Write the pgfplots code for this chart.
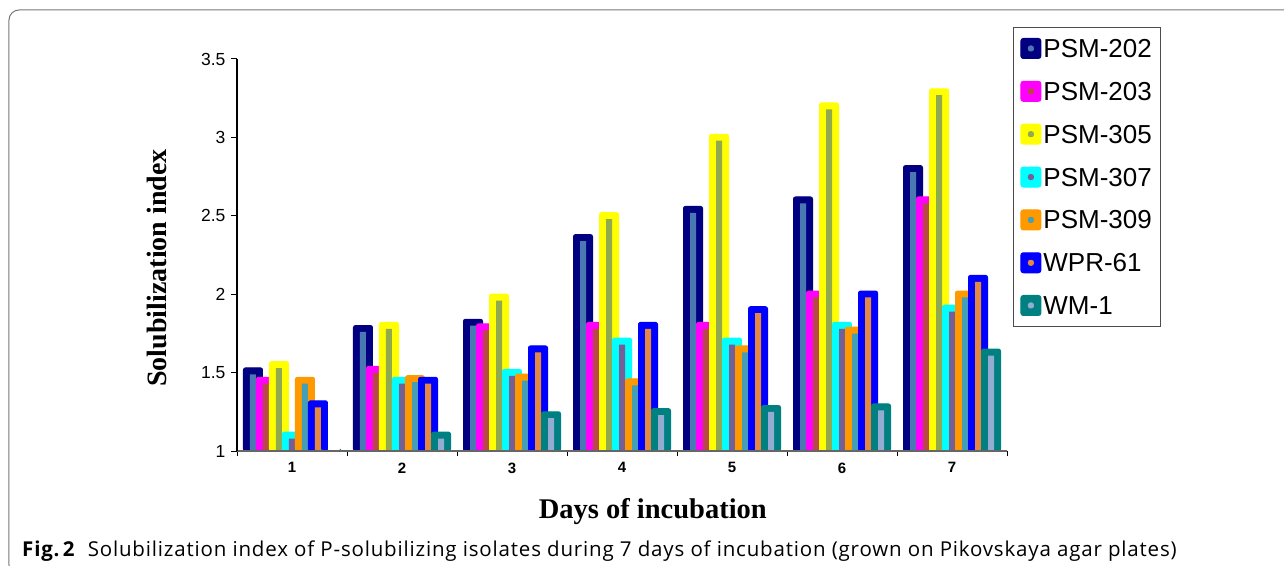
\documentclass[border=0pt]{standalone}
\usepackage{pgfplots}
\pgfplotsset{compat=1.18}
\usepackage{pgfplotstable}
\usepackage{fontspec}
\setmainfont{Liberation Sans}
\newfontfamily\tnr{Liberation Serif}
\newfontfamily\capfont[LetterSpace=4]{Open Sans}

% bar colours (outer) and inner strip colours
\definecolor{cA}{RGB}{0,0,128}     \definecolor{cAi}{RGB}{74,120,178}
\definecolor{cB}{RGB}{255,0,255}   \definecolor{cBi}{RGB}{185,72,72}
\definecolor{cC}{RGB}{255,255,0}   \definecolor{cCi}{RGB}{145,170,78}
\definecolor{cD}{RGB}{0,255,255}   \definecolor{cDi}{RGB}{118,94,150}
\definecolor{cE}{RGB}{255,153,0}   \definecolor{cEi}{RGB}{68,158,182}
\definecolor{cF}{RGB}{0,0,255}     \definecolor{cFi}{RGB}{226,136,66}
\definecolor{cG}{RGB}{0,128,128}   \definecolor{cGi}{RGB}{148,172,210}
\definecolor{framegray}{RGB}{120,120,120}

% solubilization index per day
\pgfplotstableread{
day  a    b    c    d    e    f    g
1    1.53 1.47 1.57 1.12 1.47 1.32 1.00
2    1.80 1.54 1.82 1.47 1.48 1.47 1.12
3    1.84 1.81 2.00 1.52 1.49 1.67 1.25
4    2.38 1.82 2.52 1.72 1.46 1.82 1.27
5    2.56 1.82 3.02 1.72 1.67 1.92 1.29
6    2.62 2.02 3.22 1.82 1.79 2.02 1.30
7    2.82 2.62 3.31 1.93 2.02 2.12 1.65
}\data

\pgfplotsset{
  swatch/.style 2 args={legend image code/.code={
    \fill[#1, rounded corners=2.5pt] (0pt,-10pt) rectangle (20pt,10pt);
    \fill[#2] (7.5pt,-2.5pt) rectangle (12.5pt,2.5pt);}},
  outer/.style 2 args={ybar, bar width=19pt, bar shift=#2, fill=#1, draw=#1,
    line width=1pt, rounded corners=2pt},
  inner/.style 2 args={ybar, bar width=6pt, bar shift=#2, fill=#1, draw=none, forget plot},
}

\begin{document}
\begin{tikzpicture}
\useasboundingbox (-237pt,-114pt) rectangle (1047pt,451pt);
\fill[white] (-237pt,-114pt) rectangle (1047pt,451pt);
\draw[framegray, line width=1pt, rounded corners=10pt] (-228pt,441pt) rectangle (1070pt,-124pt);

\begin{axis}[
  at={(0pt,0pt)}, anchor=south west,
  scale only axis, width=770pt, height=392pt,
  xmin=0.5, xmax=7.5, ymin=1, ymax=3.5,
  axis lines*=left,
  axis on top,
  x axis line style={black!60, line width=1.8pt},
  y axis line style={black, line width=1.5pt},
  xtick={1,...,7},
  minor xtick={0.5,1.5,...,7.5},
  ytick={1,1.5,...,3.5},
  tick align=outside,
  major tick length=6pt, minor tick length=5pt,
  major x tick style={draw=none},
  minor x tick style={black, line width=0.8pt},
  y tick style={black, line width=1pt},
  /pgf/number format/assume math mode=true,
  yticklabel style={font=\fontsize{17.5}{21}\selectfont, xshift=-2pt},
  xticklabel style={font=\fontsize{15}{18}\selectfont\bfseries, yshift=-2pt},
  xlabel={Days of incubation},
  xlabel style={at={(axis description cs:0.540,-0.171)}, anchor=base,
    font=\fontsize{28.5}{34}\selectfont\tnr\bfseries},
  ylabel={Solubilization index},
  ylabel style={at={(axis description cs:-0.092,0.467)}, anchor=base,
    font=\fontsize{28}{34}\selectfont\tnr\bfseries},
  legend style={at={(axis description cs:1.0078,1.0816)}, anchor=north west,
    draw=black!70, line width=0.8pt, inner xsep=7pt, inner ysep=10pt,
    font=\fontsize{26}{30}\selectfont, row sep=20.7pt,
    nodes={inner sep=2pt, text depth=0pt}},
  legend cell align=left,
]
\addplot[outer={cA}{-39pt}, swatch={cA}{cAi}] table[x=day, y=a] {\data};
\addplot[inner={cAi}{-39pt}] table[x=day, y expr=\thisrow{a}-0.041] {\data};
\addplot[outer={cB}{-26pt}, swatch={cB}{cBi}] table[x=day, y=b] {\data};
\addplot[inner={cBi}{-26pt}] table[x=day, y expr=\thisrow{b}-0.041] {\data};
\addplot[outer={cC}{-13pt}, swatch={cC}{cCi}] table[x=day, y=c] {\data};
\addplot[inner={cCi}{-13pt}] table[x=day, y expr=\thisrow{c}-0.041] {\data};
\addplot[outer={cD}{0pt}, swatch={cD}{cDi}] table[x=day, y=d] {\data};
\addplot[inner={cDi}{0pt}] table[x=day, y expr=\thisrow{d}-0.041] {\data};
\addplot[outer={cE}{13pt}, swatch={cE}{cEi}] table[x=day, y=e] {\data};
\addplot[inner={cEi}{13pt}] table[x=day, y expr=\thisrow{e}-0.041] {\data};
\addplot[outer={cF}{26pt}, swatch={cF}{cFi}] table[x=day, y=f] {\data};
\addplot[inner={cFi}{26pt}] table[x=day, y expr=\thisrow{f}-0.041] {\data};
\addplot[outer={cG}{39pt}, swatch={cG}{cGi}] table[x=day, y=g] {\data};
\addplot[inner={cGi}{39pt}] table[x=day, y expr=\thisrow{g}-0.041] {\data};
\legend{PSM-202,PSM-203,PSM-305,PSM-307,PSM-309,WPR-61,WM-1}
\end{axis}

\node[anchor=base west, font=\fontsize{20.5}{24}\selectfont\capfont, inner sep=0pt]
  at (-215pt,-105pt) {\textbf{Fig.\,2}\hspace{0.6em}Solubilization index of P-solubilizing isolates during 7 days of incubation (grown on Pikovskaya agar plates)};
\end{tikzpicture}
\end{document}
